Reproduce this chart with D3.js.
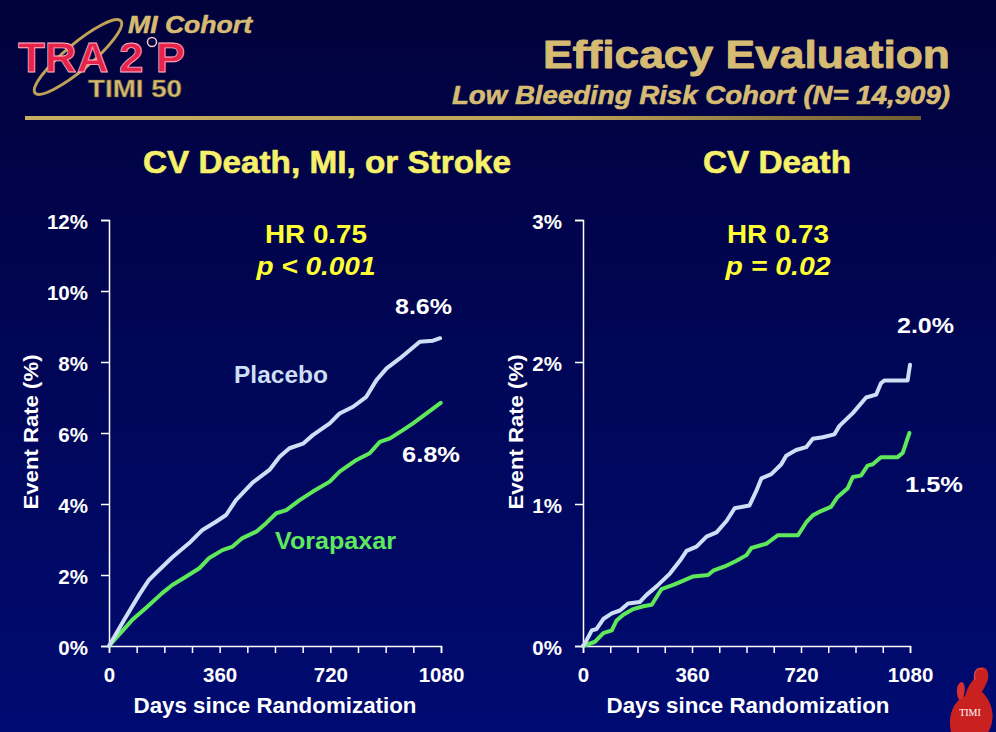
<!DOCTYPE html>
<html><head><meta charset="utf-8">
<script src="https://cdn.jsdelivr.net/npm/d3@7"></script>
<style>html,body{margin:0;padding:0;background:#000040;}svg{display:block;}</style>
</head><body>
<script>
// ---------- DATA ----------
const leftPlaceboDays = [0,49,98,130,152,206,261,304,348,381,413,467,522,555,587,631,663,718,750,794,837,870,903,946,979,1011,1054,1077];
const leftPlaceboRate = [0,0.73,1.44,1.86,2.05,2.5,2.9,3.27,3.5,3.69,4.11,4.6,4.96,5.33,5.57,5.7,5.94,6.27,6.55,6.74,7.02,7.49,7.82,8.1,8.34,8.57,8.6,8.67];
const leftVoraDays = [0,75,120,173,206,250,294,326,369,402,434,479,511,544,577,620,663,718,750,805,848,881,914,956,989,1033,1079];
const leftVoraRate = [0,0.73,1.07,1.49,1.72,1.95,2.19,2.48,2.7,2.8,3.04,3.22,3.46,3.74,3.83,4.11,4.35,4.63,4.91,5.24,5.43,5.75,5.85,6.08,6.27,6.55,6.85];
const rightPlaceboDays = [0,7,29,45,67,95,122,149,188,210,243,287,320,342,375,408,441,474,501,550,572,589,622,655,671,704,737,759,792,830,847,891,935,968,984,995,1072,1080];
const rightPlaceboRate = [0,0.02,0.11,0.12,0.19,0.23,0.25,0.3,0.31,0.36,0.42,0.51,0.6,0.67,0.7,0.77,0.8,0.88,0.97,0.99,1.09,1.18,1.21,1.28,1.34,1.38,1.4,1.46,1.47,1.49,1.55,1.64,1.75,1.77,1.85,1.87,1.87,1.98];
const rightVoraDays = [0,40,67,95,111,133,166,199,227,259,298,320,364,413,430,468,507,540,556,605,644,710,737,759,786,819,841,874,891,918,940,957,984,1039,1056,1078];
const rightVoraRate = [0,0.03,0.09,0.11,0.18,0.22,0.26,0.28,0.29,0.4,0.43,0.45,0.49,0.5,0.53,0.56,0.6,0.64,0.69,0.72,0.78,0.78,0.87,0.92,0.95,0.98,1.05,1.11,1.19,1.2,1.27,1.28,1.33,1.33,1.36,1.5];
const xTickValues = [0,90,180,270,360,450,540,630,720,810,900,990,1080];
const xTickLabels = ["0","360","720","1080"];
const leftYTicks = [0,2,4,6,8,10,12];
const rightYTicks = [0,1,2,3];
const titleText = "Efficacy Evaluation";
const subtitleText = "Low Bleeding Risk Cohort (N= 14,909)";
const panelTitles = ["CV Death, MI, or Stroke","CV Death"];
const hrTexts = ["HR 0.75","HR 0.73"];
const pTexts = ["p < 0.001","p = 0.02"];
const endLabels = [["8.6%","6.8%"],["2.0%","1.5%"]];
const seriesNames = ["Placebo","Vorapaxar"];

// ---------- DRAW ----------
const W=996,H=732;
const FONT="'Liberation Sans', Arial, Helvetica, sans-serif";
const GOLD="#d6bb72", YEL="#ffff33", PLC="#cddff6", VOR="#5ee85a";
const svg=d3.select("body").append("svg").attr("width",W).attr("height",H).style("font-family",FONT);
const defs=svg.append("defs");
const bg=defs.append("linearGradient").attr("id","bg").attr("x1",0).attr("y1",0).attr("x2",0).attr("y2",1);
bg.append("stop").attr("offset",0).attr("stop-color","#01013b");
bg.append("stop").attr("offset",1).attr("stop-color","#000b72");
svg.append("rect").attr("width",W).attr("height",H).attr("fill","url(#bg)");
const gl=defs.append("linearGradient").attr("id","gl").attr("x1",0).attr("x2",1);
gl.append("stop").attr("offset",0).attr("stop-color","#c9ad62");
gl.append("stop").attr("offset",0.6).attr("stop-color","#bfa35a");
gl.append("stop").attr("offset",1).attr("stop-color","#6e5c30");
svg.append("rect").attr("x",25).attr("y",116).attr("width",896).attr("height",4).attr("fill","url(#gl)");

function txt(g,o){
  const t=g.append("text").attr("x",o.x).attr("y",o.y).attr("font-size",o.fs).attr("font-weight",o.fw||"bold")
    .attr("fill",o.fill||"#fff").attr("text-anchor",o.anchor||"start").text(o.t);
  if(o.italic) t.attr("font-style","italic");
  if(o.len) t.attr("textLength",o.len).attr("lengthAdjust","spacingAndGlyphs");
  if(o.transform) t.attr("transform",o.transform);
  if(o.heavy) t.attr("stroke",o.fill||"#fff").attr("stroke-width",o.heavy).attr("stroke-linejoin","round");
  return t;
}

// header
txt(svg,{x:950,y:68,fs:39,fill:GOLD,anchor:"end",len:407,heavy:0.9,t:titleText});
txt(svg,{x:950,y:104,fs:25,fill:GOLD,anchor:"end",italic:true,len:498,heavy:0.6,t:subtitleText});

// logo
const logo=svg.append("g");
logo.append("ellipse").attr("cx",78).attr("cy",57).attr("rx",56).attr("ry",13).attr("transform","rotate(-40 78 57)").attr("fill","none").attr("stroke","#bfa258").attr("stroke-width",3);
txt(logo,{x:128,y:33,fs:23,fill:GOLD,italic:true,len:124,heavy:0.5,t:"MI Cohort"});
txt(logo,{x:18,y:72,fs:42,fill:"#e6234b",len:167,t:"TRA 2 P"}).attr("stroke","#ffb0c0").attr("stroke-width",0.8);
logo.append("circle").attr("cx",152).attr("cy",42).attr("r",4.5).attr("fill","none").attr("stroke","#f0c8d0").attr("stroke-width",1.5);
txt(logo,{x:88,y:97,fs:23,fw:"900",fill:GOLD,len:94,t:"TIMI 50"}).attr("stroke","#6a5a30").attr("stroke-width",0.6);

// TIMI bottom-right logo
const tl=svg.append("g").attr("transform","translate(945,662)");
tl.append("path").attr("d","M6,70 C2,52 10,38 20,34 C22,26 26,20 30,16 C30,6 38,2 42,8 C46,16 40,24 37,30 C46,38 50,52 46,64 C44,70 42,72 40,72 Z").attr("fill","#c8211f");
tl.append("path").attr("d","M14,38 C10,30 12,20 17,20 C21,22 20,30 18,36 Z").attr("fill","#d83030");
tl.append("path").attr("d","M30,18 C28,8 34,4 38,8").attr("fill","none").attr("stroke","#e04848").attr("stroke-width",1.5);
tl.append("text").attr("x",25).attr("y",54).attr("text-anchor","middle").attr("font-size",10).attr("font-family","'Liberation Serif', serif").attr("fill","#fff").text("TIMI");

function panel(cfg){
  const x=d3.scaleLinear().domain([0,1080]).range([cfg.x0,cfg.x1]);
  const y=d3.scaleLinear().domain([0,cfg.ymax]).range([646,220]);
  const g=svg.append("g");
  const xa=g.append("g").attr("transform","translate(0,646)")
    .call(d3.axisBottom(x).tickValues(xTickValues).tickSize(7).tickFormat(d=> d%360===0? xTickLabels[d/360]:""));
  const ya=g.append("g").attr("transform",`translate(${cfg.x0},0)`)
    .call(d3.axisLeft(y).tickValues(cfg.yticks).tickSize(8).tickFormat(d=>d+"%"));
  [xa,ya].forEach(a=>{
    a.selectAll("path.domain").attr("stroke","#ffffff").attr("stroke-width",1.5);
    a.selectAll(".tick line").attr("stroke","#ffffff").attr("stroke-width",1.5);
    a.selectAll("text").attr("fill","#ffffff").attr("font-size",20.5).attr("font-weight","bold").attr("font-family",FONT);
  });
  xa.selectAll("text").attr("dy","0").attr("y",36);
  ya.selectAll("text").attr("x",-21).attr("dy","0.4em");
  txt(g,{x:cfg.tcx,y:173,fs:31,fill:"#f6f06a",anchor:"middle",len:cfg.tlen,heavy:0.6,t:cfg.title});
  txt(g,{x:cfg.hcx,y:243,fs:25.5,fill:YEL,anchor:"middle",len:102,t:cfg.hr});
  txt(g,{x:cfg.hcx,y:275,fs:25.5,fill:YEL,anchor:"middle",italic:true,len:cfg.plen,t:cfg.p});
  txt(g,{x:0,y:0,fs:21,anchor:"middle",len:155,transform:`translate(${cfg.ylx},432) rotate(-90)`,t:"Event Rate (%)"});
  txt(g,{x:cfg.dcx,y:713,fs:21.5,anchor:"middle",len:283,t:"Days since Randomization"});
  const line=d3.line().x(d=>x(d[0])).y(d=>y(d[1])).curve(d3.curveLinear);
  const pl=cfg.pd.map((d,i)=>[d,cfg.pr[i]]);
  const vo=cfg.vd.map((d,i)=>[d,cfg.vr[i]]);
  g.append("path").datum(vo).attr("d",line).attr("fill","none").attr("stroke",VOR).attr("stroke-width",4).attr("stroke-linejoin","round").attr("stroke-linecap","round");
  g.append("path").datum(pl).attr("d",line).attr("fill","none").attr("stroke",PLC).attr("stroke-width",4).attr("stroke-linejoin","round").attr("stroke-linecap","round");
  txt(g,{x:cfg.l1[0],y:cfg.l1[1],fs:22,len:57,t:cfg.e[0]});
  txt(g,{x:cfg.l2[0],y:cfg.l2[1],fs:22,len:58,t:cfg.e[1]});
  if(cfg.names){
    txt(g,{x:234,y:383,fs:24.5,fill:PLC,len:94,t:seriesNames[0]});
    txt(g,{x:275,y:549,fs:24.5,fill:VOR,len:121,t:seriesNames[1]});
  }
}
panel({x0:109,x1:441,ymax:12,yticks:leftYTicks,title:panelTitles[0],tcx:327,tlen:368,hcx:316,hr:hrTexts[0],p:pTexts[0],plen:119,ylx:38,dcx:275,
  pd:leftPlaceboDays,pr:leftPlaceboRate,vd:leftVoraDays,vr:leftVoraRate,e:endLabels[0],l1:[395,314],l2:[402,462],names:true});
panel({x0:583,x1:910,ymax:3,yticks:rightYTicks,title:panelTitles[1],tcx:777,tlen:148,hcx:778,hr:hrTexts[1],p:pTexts[1],plen:105,ylx:523,dcx:748,
  pd:rightPlaceboDays,pr:rightPlaceboRate,vd:rightVoraDays,vr:rightVoraRate,e:endLabels[1],l1:[897,333],l2:[905,492],names:false});
</script>
</body></html>
